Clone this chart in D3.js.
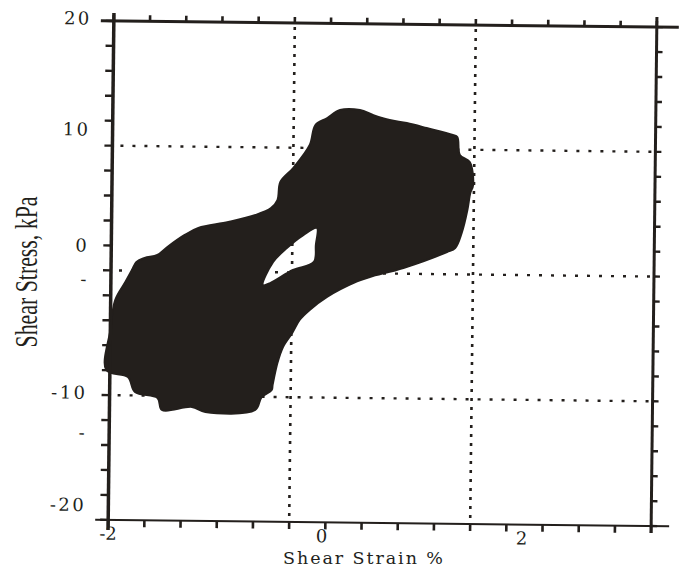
<html><head>
<script src="https://d3js.org/d3.v7.min.js"></script>
<style>
  body { margin: 0; background: #fff; }
  text { fill: #231f1c; }
</style>
</head>
<body>
<svg id="graph" width="680" height="570" style="background:#fff"></svg>
<script>
// hysteresis envelope: [shear strain %, shear stress kPa]
const loopOuter = [
  [-2.04, -7.98], [-2.00, -4.78], [-1.95, -2.37], [-1.84, -0.92], [-1.77, 0.03],
  [-1.72, 0.70], [-1.63, 1.03], [-1.49, 1.28], [-1.38, 1.93], [-1.19, 2.91],
  [-1.04, 3.48], [-0.71, 3.98], [-0.41, 4.57], [-0.24, 5.14], [-0.17, 5.79],
  [-0.14, 7.24], [0.00, 8.37], [0.18, 10.23], [0.24, 11.84], [0.37, 12.41],
  [0.51, 13.06], [0.73, 13.08], [0.88, 12.69], [1.06, 12.31], [1.25, 12.08],
  [1.47, 11.70], [1.76, 11.16], [1.81, 11.00], [1.84, 9.57], [1.95, 9.01],
  [1.99, 7.17], [1.96, 6.53], [1.93, 5.16], [1.87, 3.32], [1.80, 2.11],
  [1.71, 1.78], [1.23, 0.46], [0.86, -0.29], [0.72, -0.66], [0.39, -1.93],
  [0.20, -2.99], [0.09, -3.80], [0.01, -4.85], [-0.09, -5.98], [-0.15, -7.27],
  [-0.20, -9.03], [-0.21, -9.44], [-0.32, -10.01], [-0.39, -11.05], [-0.94, -11.26],
  [-1.09, -10.87], [-1.42, -11.14], [-1.47, -10.18], [-1.72, -9.72], [-1.80, -8.53]
];
// open window inside the band between the two lobes
const loopHole = [
  [-0.32, -1.03], [-0.21, 0.82], [-0.06, 1.96], [0.12, 3.01], [0.27, 3.59],
  [0.26, 2.22], [0.24, 0.86], [0.01, 0.20], [-0.24, -0.87]
];

const xTickValues = [-2, -1.6, -1.2, -0.8, -0.4, 0, 0.4, 0.8, 1.2, 1.6, 2, 2.4, 2.8, 3.2, 3.6, 4];
const yTickValues = [20, 18, 16, 14, 12, 10, 8, 6, 4, 2, 0, -2, -4, -6, -8, -10, -12, -14, -16, -18, -20];
const xLabels = ["-2", "0", "2"];
const xLabelAt = [-2, 0.36, 2.57];
const yLabels = ["20", "10", "0", "-", "-10", "-", "-20"];
const yLabelAt = [20.2, 11.3, 2.0, -0.7, -9.8, -13.0, -18.8];
const gridX = [0, 2];
const gridY = [10, 0, -10];

const svg = d3.select("#graph");
const ink = "#231f1c";

// the scanned figure is slightly tilted
const layer = svg.append("g").attr("transform", "rotate(0.65, 383, 273)");

const x = d3.scaleLinear().domain([-2, 4]).range([111, 654]);
const y = d3.scaleLinear().domain([-20, 20]).range([523, 24]);

// dotted guide lines
layer.selectAll(".gy").data(gridY).join("line")
  .attr("class", "gy")
  .attr("x1", x(-2) + 8).attr("x2", x(4))
  .attr("y1", d => y(d)).attr("y2", d => y(d))
  .attr("stroke", ink).attr("stroke-width", 2.4)
  .attr("stroke-dasharray", "3,9");

layer.selectAll(".gx").data(gridX).join("line")
  .attr("class", "gx")
  .attr("x1", d => x(d)).attr("x2", d => x(d))
  .attr("y1", y(20) + 4).attr("y2", y(-20))
  .attr("stroke", ink).attr("stroke-width", 2.6)
  .attr("stroke-dasharray", "3,6");

// loop: outer envelope + hole (evenodd)
const line = d3.line().x(d => x(d[0])).y(d => y(d[1])).curve(d3.curveCatmullRomClosed.alpha(0.5));
layer.append("path")
  .attr("d", line(loopOuter) + line(loopHole))
  .attr("fill", ink)
  .attr("fill-rule", "evenodd")
  .attr("stroke", ink)
  .attr("stroke-width", 2)
  .attr("stroke-linejoin", "round");

// frame
const frame = [
  {x1: x(-2) - 13, x2: x(4) + 22, y1: y(20), y2: y(20), w: 3},
  {x1: x(-2) - 13, x2: x(4) + 18, y1: y(-20), y2: y(-20), w: 2},
  {x1: x(-2), x2: x(-2), y1: y(20) - 8, y2: y(-20) + 10, w: 3.5},
  {x1: x(4), x2: x(4), y1: y(20) - 10, y2: y(-20) + 7, w: 3}
];
layer.selectAll(".frame").data(frame).join("line")
  .attr("class", "frame")
  .attr("x1", d => d.x1).attr("x2", d => d.x2)
  .attr("y1", d => d.y1).attr("y2", d => d.y2)
  .attr("stroke", ink).attr("stroke-width", d => d.w);

// ticks, all pointing outwards
layer.selectAll(".tt").data(xTickValues).join("line")
  .attr("class", "tt")
  .attr("x1", d => x(d)).attr("x2", d => x(d))
  .attr("y1", y(20)).attr("y2", y(20) - 6)
  .attr("stroke", ink).attr("stroke-width", 2.6);
layer.selectAll(".tb").data(xTickValues).join("line")
  .attr("class", "tb")
  .attr("x1", d => x(d)).attr("x2", d => x(d))
  .attr("y1", y(-20)).attr("y2", y(-20) + 7)
  .attr("stroke", ink).attr("stroke-width", 2.6);
layer.selectAll(".tl").data(yTickValues).join("line")
  .attr("class", "tl")
  .attr("x1", x(-2)).attr("x2", x(-2) - 8)
  .attr("y1", d => y(d)).attr("y2", d => y(d))
  .attr("stroke", ink).attr("stroke-width", 2.4);
layer.selectAll(".tr").data(yTickValues).join("line")
  .attr("class", "tr")
  .attr("x1", x(4)).attr("x2", x(4) + 6)
  .attr("y1", d => y(d)).attr("y2", d => y(d))
  .attr("stroke", ink).attr("stroke-width", 2.4);

// tick labels
layer.selectAll(".yl").data(yLabels).join("text")
  .attr("class", "yl")
  .attr("x", x(-2) - 22)
  .attr("y", (d, i) => y(yLabelAt[i]))
  .attr("dy", "0.36em")
  .attr("text-anchor", "end")
  .attr("font-family", "DejaVu Serif")
  .attr("font-size", 18)
  .attr("letter-spacing", 2.5)
  .text(d => d);

layer.selectAll(".xl").data(xLabels).join("text")
  .attr("class", "xl")
  .attr("x", (d, i) => x(xLabelAt[i]))
  .attr("y", y(-20) + 20)
  .attr("text-anchor", "middle")
  .attr("font-family", "DejaVu Serif")
  .attr("font-size", 18)
  .text(d => d);

// axis titles
svg.append("text")
  .attr("x", 283).attr("y", 564)
  .attr("font-family", "DejaVu Serif")
  .attr("font-size", 17.5)
  .attr("textLength", 160)
  .attr("lengthAdjust", "spacing")
  .text("Shear Strain %");

svg.append("text")
  .attr("transform", "translate(37,272) rotate(-90)")
  .attr("text-anchor", "middle")
  .attr("font-family", "Liberation Serif")
  .attr("font-size", 32)
  .attr("textLength", 151)
  .attr("lengthAdjust", "spacingAndGlyphs")
  .text("Shear Stress, kPa");
</script>
</body>
</html>
